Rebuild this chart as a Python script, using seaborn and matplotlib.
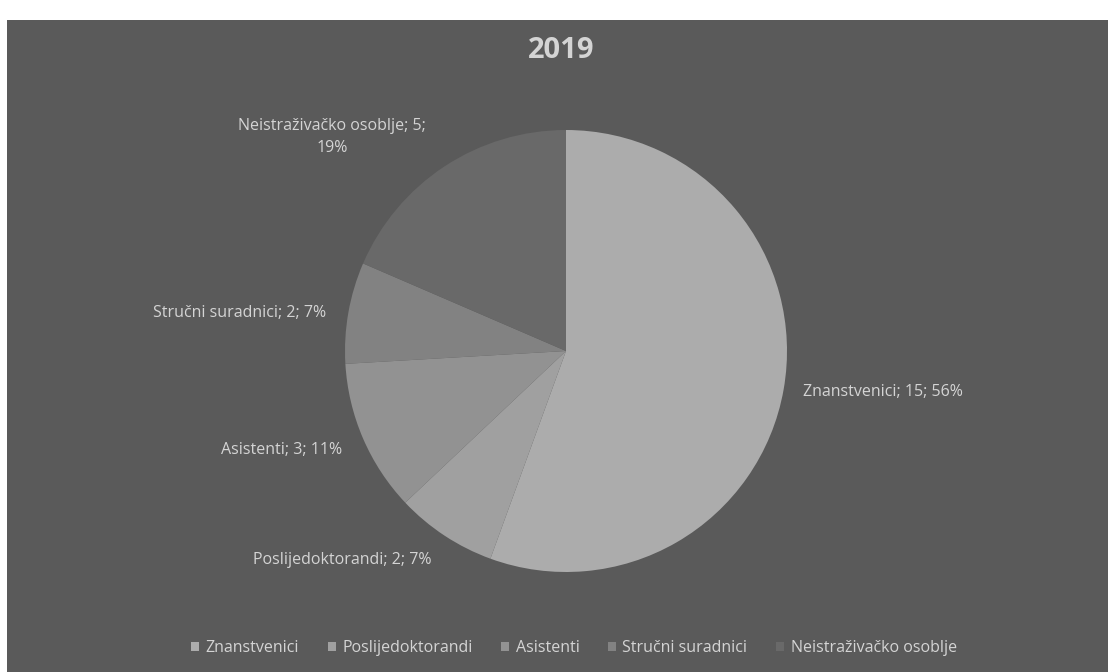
import matplotlib
matplotlib.use("Agg")
import matplotlib.pyplot as plt
import matplotlib.patches as mpatches
import seaborn as sns

sns.set_theme(style="white")
plt.rcParams['font.family'] = ['Open Sans', 'DejaVu Sans']

# Data
categories = ["Znanstvenici", "Poslijedoktorandi", "Asistenti",
              "Stručni suradnici", "Neistraživačko osoblje"]
values = [15, 2, 3, 2, 5]
percent_labels = ["56%", "7%", "11%", "7%", "19%"]
title = "2019"

colors = sns.color_palette(["#acacac", "#a0a0a0", "#929292", "#828282", "#696969"])
bg = "#5a5a5a"
txt = "#d4d4d4"

W, H = 1108, 672
fig = plt.figure(figsize=(W / 100, H / 100), dpi=100, facecolor="white")
fig.patches.append(mpatches.Rectangle((7 / W, 0), 1 - 7 / W, (H - 20) / H,
                                      transform=fig.transFigure, facecolor=bg,
                                      edgecolor="none", zorder=-10))

cx, cy, r = 566, 351, 221
ax = fig.add_axes([(cx - r) / W, (H - cy - r) / H, 2 * r / W, 2 * r / H])
ax.set_zorder(5)
ax.set_facecolor("none")
wedges, _ = ax.pie(values, colors=colors, startangle=90, counterclock=False,
                   radius=1, wedgeprops=dict(linewidth=0))
ax.set_xlim(-1, 1)
ax.set_ylim(-1, 1)
ax.axis("off")

def px(x, y):
    return x / W, 1 - y / H

fig.text(*px(561, 51), title, ha="center", va="center", fontsize=21,
         fontweight="bold", color=txt)

lab = [f"{c}; {v}; {p}" for c, v, p in zip(categories, values, percent_labels)]
fs = 11.5
fig.text(*px(803, 392), lab[0], ha="left", va="center", fontsize=fs, color=txt)
fig.text(*px(342, 560), lab[1], ha="center", va="center", fontsize=fs, color=txt)
fig.text(*px(282, 450), lab[2], ha="center", va="center", fontsize=fs, color=txt)
fig.text(*px(153, 313), lab[3], ha="left", va="center", fontsize=fs, color=txt)
fig.text(*px(332, 137), f"{categories[4]}; {values[4]};\n{percent_labels[4]}",
         ha="center", va="center", fontsize=fs, color=txt, linespacing=1.45)

handles = [mpatches.Patch(facecolor=c, edgecolor="none") for c in colors]
leg = fig.legend(handles, categories, loc="center left",
                 bbox_to_anchor=(191 / W, 1 - 648 / H),
                 ncol=5, frameon=False, fontsize=11.5, labelcolor=txt,
                 handlelength=0.5, handleheight=0.5, handletextpad=0.4,
                 columnspacing=1.8, borderpad=0, borderaxespad=0)

fig.savefig("out.png", dpi=100, facecolor="white")
